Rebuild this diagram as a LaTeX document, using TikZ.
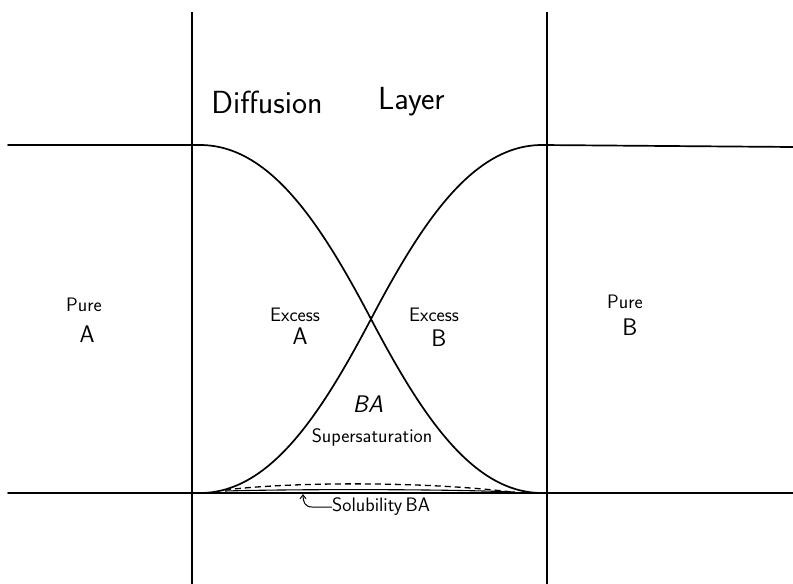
\documentclass[tikz,border=0pt]{standalone}
\usetikzlibrary{arrows.meta}
\begin{document}
\begin{tikzpicture}[x=1pt,y=-1pt,
  curve/.style={line width=1.7pt,line cap=round},
  wall/.style={line width=1.2pt},
  lbl/.style={font=\sffamily\fontsize{19.5}{21}\selectfont,inner sep=0pt},
  biglbl/.style={font=\sffamily\fontsize{24}{26}\selectfont,inner sep=0pt},
  title/.style={font=\sffamily\fontsize{32}{34}\selectfont,inner sep=0pt},
  small/.style={font=\sffamily\fontsize{19.5}{21}\selectfont,inner sep=0pt}]
\useasboundingbox (0,0) rectangle (793,584);
% coordinates
\coordinate (topL) at (8,145);
\coordinate (aStart) at (200,145);
\coordinate (cross) at (371,319);
\coordinate (aEnd) at (542,493);
\coordinate (bStart) at (200,493);
\coordinate (bEnd) at (542,145);
\coordinate (topR) at (793,147);
\coordinate (baseL) at (8,493);
\coordinate (baseR) at (793,493);
\coordinate (wallLt) at (192,12);
\coordinate (wallLb) at (192,584);
\coordinate (wallRt) at (547,12);
\coordinate (wallRb) at (547,584);
\coordinate (solA) at (225,491);
\coordinate (solB) at (515,492);
\coordinate (dashA) at (225,490);
\coordinate (dashB) at (512,492);
\coordinate (solTip) at (303,494);
% walls
\draw[wall] (wallLt) -- (wallLb);
\draw[wall] (wallRt) -- (wallRb);
% baseline
\draw[curve] (baseL) -- (baseR);
% curve A
\draw[curve] (topL) -- (aStart) .. controls (270,145) and (321,224) .. (cross)
  .. controls (421,414) and (472,493) .. (aEnd);
% curve B
\draw[curve] (bStart) .. controls (270,493) and (321,414) .. (cross)
  .. controls (421,224) and (472,145) .. (bEnd) -- (topR);
% solubility and supersaturation lines
\draw[line width=1.1pt] (solA) .. controls (300,489) and (440,489) .. (solB);
\draw[line width=1.3pt,dash pattern=on 6pt off 4pt] (dashA) .. controls (290,482) and (420,481) .. (dashB);
% labels
\node[title] (diff) at (267,102) {Diffusion};
\node[title,anchor=west] (layer) at (378,102) {Layer};
\node[lbl] (pureA) at (84,305) {Pure};
\node[biglbl] (pA) at (87,334) {A};
\node[lbl] (exA) at (295,315) {Excess};
\node[biglbl] (eA) at (300,336) {A};
\node[lbl] (exB) at (434,315) {Excess};
\node[biglbl] (eB) at (439,338) {B};
\node[lbl] (pureB) at (625,302) {Pure};
\node[biglbl] (pB) at (630,327) {B};
\node[font=\sffamily\itshape\fontsize{24}{26}\selectfont,inner sep=0pt] (ba) at (368,404) {BA};
\node[small] (super) at (372,437) {Supersaturation};
\node[small,anchor=west] (sol) at (332,507) {Solubility\,BA};
% arrow
\draw[line width=1pt,-{Straight Barb[length=4pt,width=6pt]}] (sol.west) -- (312,507)
  .. controls (305,507) and (303,502) .. (solTip);
\end{tikzpicture}
\end{document}
